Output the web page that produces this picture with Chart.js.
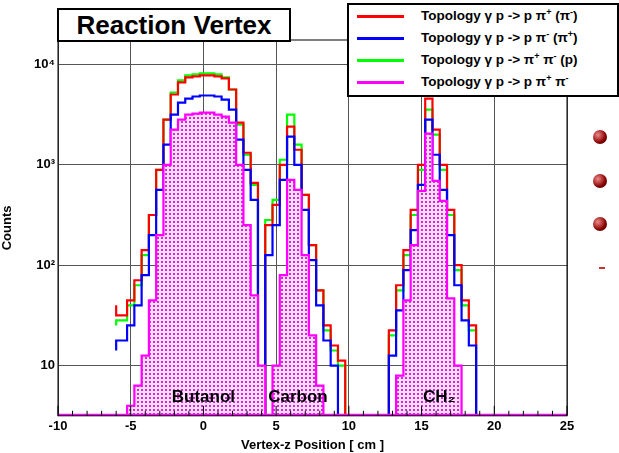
<!DOCTYPE html>
<html>
<head>
<meta charset="utf-8">
<script src="https://cdn.jsdelivr.net/npm/chart.js@4"></script>
<style>
body{margin:0;background:#fff;font-family:"Liberation Sans",Arial,sans-serif;}
#wrap{position:relative;width:619px;height:453px;}
#title{position:absolute;left:57px;top:8px;width:230px;height:30px;border:2px solid #000;background:#fff;font-weight:bold;font-size:26px;line-height:30px;text-align:center;}
#legend{position:absolute;left:347px;top:3px;width:268px;height:90px;border:2px solid #000;background:#fff;font-weight:bold;font-size:13.5px;}
#legend div{height:22px;line-height:22px;position:relative;padding-left:72px;}
#legend span.l{position:absolute;left:8px;top:10px;width:47px;height:3px;}
sup{font-size:9px;line-height:0;}
.ball{position:absolute;left:593px;width:14px;height:14px;border-radius:50%;background:radial-gradient(circle at 35% 35%,#e88,#800 60%,#300);}
</style>
</head>
<body>
<div id="wrap">
<canvas id="c" width="619" height="453"></canvas>
<div id="title">Reaction Vertex</div>
<div id="legend">
<div><span class="l" style="background:#f00"></span>Topology &gamma; p -&gt; p &pi;<sup>+</sup> (&pi;<sup>-</sup>)</div>
<div><span class="l" style="background:#00f"></span>Topology &gamma; p -&gt; p &pi;<sup>-</sup> (&pi;<sup>+</sup>)</div>
<div><span class="l" style="background:#0f0"></span>Topology &gamma; p -&gt; &pi;<sup>+</sup> &pi;<sup>-</sup> (p)</div>
<div><span class="l" style="background:#f0f"></span>Topology &gamma; p -&gt; p &pi;<sup>+</sup> &pi;<sup>-</sup></div>
</div>
<div class="ball" style="top:130px"></div>
<div class="ball" style="top:174px"></div>
<div class="ball" style="top:217px"></div>
<div style="position:absolute;left:599px;top:267px;width:6px;height:2px;background:#c33"></div>
</div>
<script>
// bin start positions (cm), bin width 0.5 (first bin starts at the -6 cut)
const binStart = [];
for (let i = 0; i < 52; i++) binStart.push(i === 0 ? -6 : -5.75 + i * 0.5);

// log10(counts) per bin; 0 means empty bin
const logRed = [1.6,1.5,1.65,1.85,2.15,2.5,2.95,3.45,3.7,3.82,3.87,3.88,3.89,3.89,3.88,3.86,3.75,3.42,3.12,2.82,0,2.4,2.6,3.0,3.38,3.15,2.7,2.2,1.75,1.4,1.2,1.05,0,0,0,0,0,0,1.35,1.8,2.15,2.55,3.0,3.66,3.35,3.0,2.55,2.0,1.65,1.4,0,0];
const logBlue = [1.15,1.25,1.4,1.6,1.9,2.3,2.75,3.2,3.5,3.62,3.66,3.68,3.69,3.69,3.68,3.65,3.55,3.25,2.95,2.65,0,2.1,2.4,2.85,3.28,3.0,2.55,2.05,1.6,1.25,1.0,0,0,0,0,0,0,0,1.1,1.55,1.95,2.35,2.8,3.45,3.1,2.75,2.3,1.8,1.45,1.2,0,0];
const logGreen = [1.4,1.45,1.6,1.8,2.1,2.5,2.95,3.45,3.72,3.84,3.89,3.9,3.91,3.91,3.9,3.87,3.75,3.4,3.1,2.8,0,2.45,2.65,3.05,3.5,3.2,2.7,2.2,1.75,1.35,1.15,1.0,0,0,0,0,0,0,1.3,1.75,2.1,2.5,2.95,3.55,3.3,2.95,2.5,1.95,1.6,1.35,0,0];
const logPink = [0,0,0.6,0.8,1.1,1.65,2.3,3.0,3.35,3.45,3.5,3.51,3.52,3.52,3.5,3.48,3.42,3.0,2.4,1.7,1.0,0,1.0,1.9,2.85,2.75,2.1,1.3,0.8,0,0,0,0,0,0,0,0,0,0,0.9,1.65,2.2,2.74,3.31,2.84,2.64,1.67,1.0,0,0,0,0];

const yTicks = [10, 100, 1000, 10000];
const yTickLabels = {10:'10', 100:'10²', 1000:'10³', 10000:'10⁴'};
const textLabels = [['Butanol', 0], ['Carbon', 6.5], ['CH₂', 16.2]];

function toPoints(logs) {
  return binStart.map((x, i) => ({x: x, y: logs[i] > 0 ? Math.pow(10, logs[i]) : 0.1}));
}

const pat = document.createElement('canvas');
pat.width = 4; pat.height = 4;
const pc = pat.getContext('2d');
pc.fillStyle = '#ffe0ff'; pc.fillRect(0, 0, 4, 4);
pc.fillStyle = '#e020e0'; pc.fillRect(1, 1, 2, 2);
const ctx0 = document.getElementById('c').getContext('2d');
const pattern = ctx0.createPattern(pat, 'repeat');

const frame = {
  id: 'frame',
  afterDraw(chart) {
    const {ctx, chartArea: a, scales} = chart;
    ctx.save();
    ctx.strokeStyle = '#f0f'; ctx.lineWidth = 2;
    ctx.beginPath(); ctx.moveTo(a.left, a.bottom - 1); ctx.lineTo(a.right, a.bottom - 1); ctx.stroke();
    ctx.strokeStyle = '#000'; ctx.lineWidth = 1;
    ctx.strokeRect(a.left, a.top, a.right - a.left, a.bottom - a.top);
    // minor x ticks
    for (let v = -10; v <= 25; v += 1) {
      const px = scales.x.getPixelForValue(v);
      const len = v % 5 === 0 ? 10 : 5;
      ctx.beginPath(); ctx.moveTo(px, a.bottom); ctx.lineTo(px, a.bottom - len); ctx.stroke();
    }
    ctx.font = 'bold 17px "Liberation Sans", Arial';
    ctx.fillStyle = '#000'; ctx.textAlign = 'center';
    textLabels.forEach(([t, x]) => ctx.fillText(t, scales.x.getPixelForValue(x), a.bottom - 14));
    ctx.restore();
  }
};

const common = {stepped: 'after', borderWidth: 2.2, pointRadius: 0, fill: false};
new Chart(ctx0, {
  type: 'line',
  data: {
    datasets: [
      Object.assign({}, common, {data: toPoints(logPink), borderColor: '#f0f', backgroundColor: pattern, fill: 'start'}),
      Object.assign({}, common, {data: toPoints(logBlue), borderColor: '#00f'}),
      Object.assign({}, common, {data: toPoints(logRed), borderColor: '#f00'}),
      Object.assign({}, common, {data: toPoints(logGreen), borderColor: '#0f0'})
    ]
  },
  options: {
    responsive: false, animation: false,
    layout: {padding: {top: 40, right: 52, left: 0, bottom: 0}},
    plugins: {legend: {display: false}, tooltip: {enabled: false}},
    scales: {
      x: {
        type: 'linear', min: -10, max: 25,
        ticks: {stepSize: 5, color: '#000', font: {weight: 'bold', size: 13}},
        grid: {color: '#555', borderDash: [1, 3], drawTicks: false},
        title: {display: true, text: 'Vertex-z Position [ cm ]', color: '#000', font: {weight: 'bold', size: 13}, padding: 0}
      },
      y: {
        type: 'logarithmic', min: 3.16, max: 17500,
        afterBuildTicks(s) { s.ticks = yTicks.map(v => ({value: v})); },
        afterFit(s) { s.width = 58; },
        ticks: {color: '#000', font: {weight: 'bold', size: 13}, callback: v => yTickLabels[v] || ''},
        grid: {color: '#555', borderDash: [1, 3], drawTicks: false},
        title: {display: true, text: 'Counts', color: '#000', font: {weight: 'bold', size: 13}, padding: 0}
      }
    }
  },
  plugins: [frame]
});
</script>
</body>
</html>
